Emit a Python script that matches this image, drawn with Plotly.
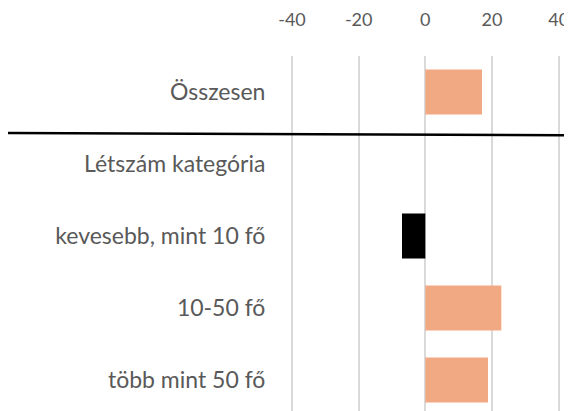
import plotly.graph_objects as go

# kategóriák és értékek (a fejléc sornak nincs oszlopa)
kategoriak = ["Összesen", "Létszám kategória", "kevesebb, mint 10 fő", "10-50 fő", "több mint 50 fő"]
ertekek = [17.0, None, -7.0, 22.8, 18.8]
tick_ertekek = [-40, -20, 0, 20, 40]

szinek = ["#000000" if (v is not None and v < 0) else "#F1A983" for v in ertekek]

fig = go.Figure()

fig.add_trace(go.Bar(
    x=ertekek,
    y=kategoriak,
    orientation='h',
    marker=dict(color=szinek, line=dict(width=0)),
    width=0.625,
    hoverinfo='x+y',
))

# elválasztó vonal az "Összesen" sor alatt
fig.add_shape(type='line', xref='paper', yref='y',
              x0=-1.0, x1=1.01, y0=0.57, y1=0.6,
              line=dict(color='black', width=2.5))

# a böngésző 8px-es body margóját ellensúlyozzuk
fig.update_layout(
    width=564, height=403,
    margin=dict(l=282, r=0, t=48, b=0),
    plot_bgcolor='white', paper_bgcolor='white',
    showlegend=False,
    font=dict(family='Lato', color='#595959'),
    xaxis=dict(
        side='top',
        range=[-40.6, 44],
        tickvals=tick_ertekek,
        ticktext=[str(t) for t in tick_ertekek],
        tickfont=dict(size=18, color='#595959'),
        ticks='outside', ticklen=22, tickcolor='rgba(0,0,0,0)',
        showgrid=True, gridcolor='#D9D9D9', gridwidth=1.5,
        zeroline=False, showline=False, automargin=False,
    ),
    yaxis=dict(
        type='category',
        range=[4.43, -0.5],
        tickfont=dict(size=23, color='#595959'),
        ticks='outside', ticklen=19, tickcolor='rgba(0,0,0,0)',
        showgrid=False, zeroline=False, showline=False, automargin=False,
    ),
)

fig.write_html("out.html")
